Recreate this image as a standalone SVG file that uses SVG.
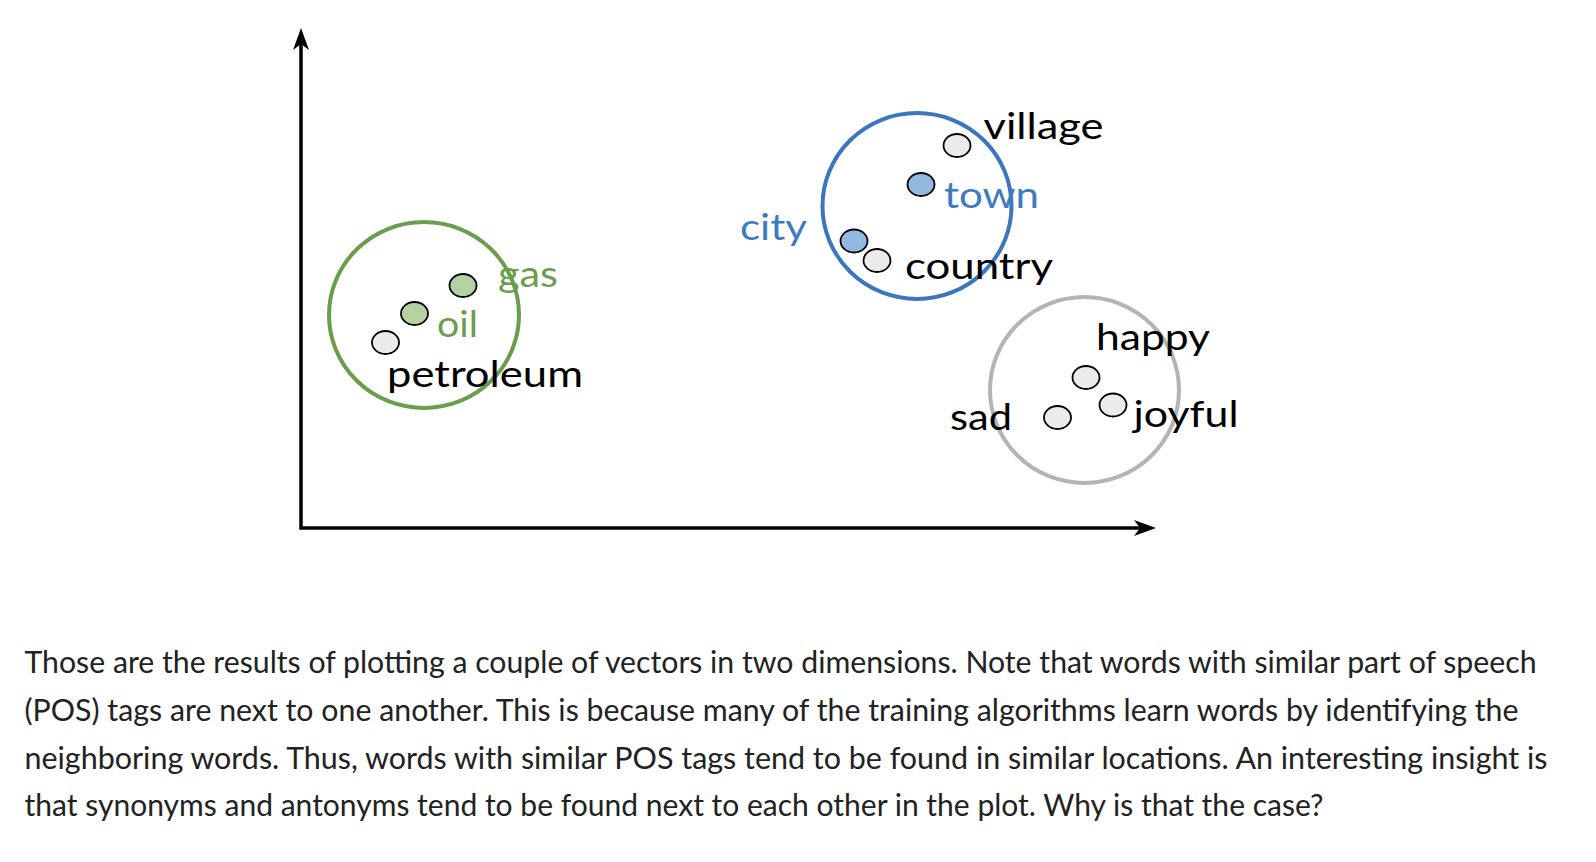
<svg xmlns="http://www.w3.org/2000/svg" width="1596" height="862" viewBox="0 0 1596 862">
  <style>
    .lbl { font-family: Lato, "Liberation Sans", sans-serif; font-size: 37px; }
    .blk { fill: #000; }
    .grn { fill: #6b9e4c; }
    .blu { fill: #3f7bc1; }
    .dot { stroke: #000; stroke-width: 1.8; }
    .dg { fill: #ebebeb; }
    .dgr { fill: #b3d1a1; }
    .db { fill: #93b9e1; }
    .ring { fill: none; stroke-width: 4; }
    .para { font-family: Lato, "Liberation Sans", sans-serif; font-size: 30px; fill: #222; }
  </style>
  <defs>
    <marker id="arr" markerUnits="userSpaceOnUse" markerWidth="22" markerHeight="16" refX="6" refY="8" orient="auto-start-reverse" overflow="visible">
      <path d="M0,0 L22,8 L0,16 L6,8 Z" fill="#000"/>
    </marker>
  </defs>
  <rect width="1596" height="862" fill="#fff"/>

  <g id="axes">
    <path d="M301,44 V528 H1140" fill="none" stroke="#000" stroke-width="3.5" marker-start="url(#arr)" marker-end="url(#arr)"/>
  </g>

  <g id="cluster-fuel">
    <ellipse class="ring" cx="424" cy="315" rx="95" ry="93" stroke="#6b9e4c"/>
  </g>
  <g id="node-gas">
    <ellipse class="dot dgr" cx="463" cy="285.5" rx="13.5" ry="11.5"/>
    <text class="lbl grn" x="498" y="287" textLength="60" lengthAdjust="spacingAndGlyphs">gas</text>
  </g>
  <g id="node-oil">
    <ellipse class="dot dgr" cx="414.5" cy="313.5" rx="13.5" ry="11.5"/>
    <text class="lbl grn" x="437" y="337" textLength="41" lengthAdjust="spacingAndGlyphs">oil</text>
  </g>
  <g id="node-petroleum">
    <ellipse class="dot dg" cx="385.5" cy="342.5" rx="13.5" ry="11.5"/>
    <text class="lbl blk" x="387" y="387" textLength="196" lengthAdjust="spacingAndGlyphs">petroleum</text>
  </g>

  <g id="cluster-place">
    <ellipse class="ring" cx="917" cy="206" rx="94.5" ry="93" stroke="#3b76bf"/>
  </g>
  <g id="node-village">
    <ellipse class="dot dg" cx="957" cy="145.5" rx="13.5" ry="11.5"/>
    <text class="lbl blk" x="983.5" y="138.5" textLength="120" lengthAdjust="spacingAndGlyphs">village</text>
  </g>
  <g id="node-town">
    <ellipse class="dot db" cx="921" cy="184.5" rx="13.5" ry="11.5"/>
    <text class="lbl blu" x="944" y="207.5" textLength="95" lengthAdjust="spacingAndGlyphs">town</text>
  </g>
  <g id="node-city">
    <ellipse class="dot db" cx="854" cy="241" rx="13.5" ry="11.5"/>
    <text class="lbl blu" x="740" y="240" textLength="67" lengthAdjust="spacingAndGlyphs">city</text>
  </g>
  <g id="node-country">
    <ellipse class="dot dg" cx="877" cy="260.5" rx="13.5" ry="11.5"/>
    <text class="lbl blk" x="905" y="278.5" textLength="148" lengthAdjust="spacingAndGlyphs">country</text>
  </g>

  <g id="cluster-mood">
    <ellipse class="ring" cx="1084.5" cy="390" rx="94.5" ry="93" stroke="#b4b4b4"/>
  </g>
  <g id="node-happy">
    <ellipse class="dot dg" cx="1086" cy="377.5" rx="13.5" ry="11.5"/>
    <text class="lbl blk" x="1096" y="350" textLength="114" lengthAdjust="spacingAndGlyphs">happy</text>
  </g>
  <g id="node-joyful">
    <ellipse class="dot dg" cx="1113" cy="405" rx="13.5" ry="11.5"/>
    <text class="lbl blk" x="1133.5" y="427" textLength="105" lengthAdjust="spacingAndGlyphs">joyful</text>
  </g>
  <g id="node-sad">
    <ellipse class="dot dg" cx="1057.5" cy="417.5" rx="13.5" ry="11.5"/>
    <text class="lbl blk" x="950" y="430" textLength="62" lengthAdjust="spacingAndGlyphs">sad</text>
  </g>

  <g id="caption">
    <text class="para" x="24.5" y="673" textLength="1512" lengthAdjust="spacingAndGlyphs">Those are the results of plotting a couple of vectors in two dimensions. Note that words with similar part of speech</text>
    <text class="para" x="24.5" y="721" textLength="1494" lengthAdjust="spacingAndGlyphs">(POS) tags are next to one another. This is because many of the training algorithms learn words by identifying the</text>
    <text class="para" x="24.5" y="768.5" textLength="1523" lengthAdjust="spacingAndGlyphs">neighboring words. Thus, words with similar POS tags tend to be found in similar locations. An interesting insight is</text>
    <text class="para" x="24.5" y="816" textLength="1299" lengthAdjust="spacingAndGlyphs">that synonyms and antonyms tend to be found next to each other in the plot. Why is that the case?</text>
  </g>
</svg>
